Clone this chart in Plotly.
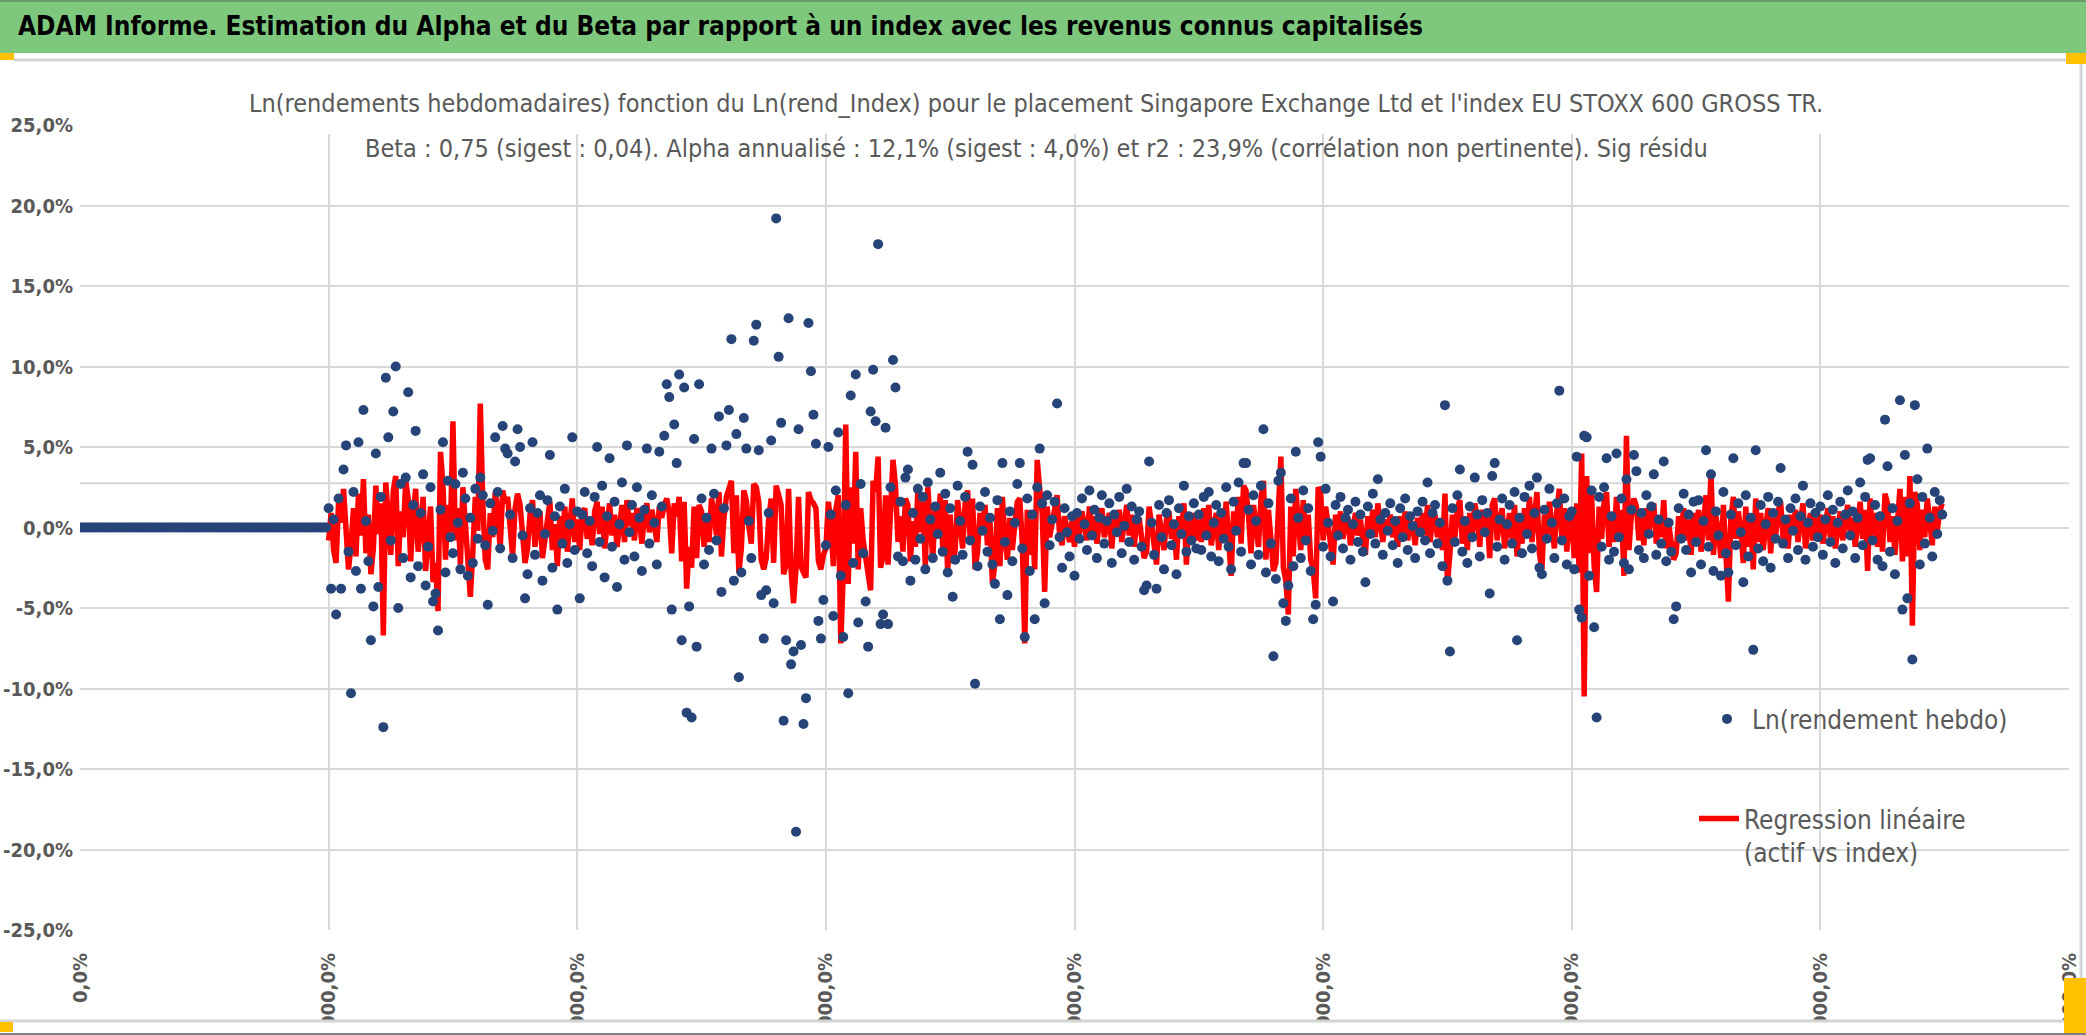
import plotly.graph_objects as go

# Ln(rendement hebdo) en %, une valeur toutes les 2 semaines (index 0, 2, 4, ...)
rendement_hebdo = [
    # semaines sans historique (0 -> 198)
    0, 0, 0, 0, 0, 0, 0, 0, 0, 0, 0, 0, 0, 0, 0, 0, 0, 0, 0, 0, 0, 0, 0, 0, 0,
    0, 0, 0, 0, 0, 0, 0, 0, 0, 0, 0, 0, 0, 0, 0, 0, 0, 0, 0, 0, 0, 0, 0, 0, 0,
    0, 0, 0, 0, 0, 0, 0, 0, 0, 0, 0, 0, 0, 0, 0, 0, 0, 0, 0, 0, 0, 0, 0, 0, 0,
    0, 0, 0, 0, 0, 0, 0, 0, 0, 0, 0, 0, 0, 0, 0, 0, 0, 0, 0, 0, 0, 0, 0, 0, 0,
    # 200 -> 298
    1.2, -3.8, 0.5, -5.4, 1.8, -3.8, 3.6, 5.1, -1.5, -10.3,
    2.2, -2.7, 5.3, -3.8, 7.3, 0.4, -2.1, -7.0, -4.9, 4.6,
    -3.7, 1.9, -12.4, 9.3, 5.6, -0.8, 7.2, 10.0, -5.0, 2.7,
    -1.9, 3.1, 8.4, -3.1, 1.4, 6.0, -2.4, 0.9, 3.3, -3.6,
    -1.2, 2.5, -4.6, -4.1, -6.4, 1.1, 5.3, -2.8, 2.9, -0.6,
    # 300 -> 398
    -1.6, 2.7, 0.3, -2.6, 3.4, 1.8, -3.0, 0.6, -2.2, 2.4,
    -0.7, 3.1, 2.0, -1.1, -4.8, 1.5, -0.2, 5.6, 2.2, -1.3,
    6.3, 4.9, 4.6, 0.8, -1.9, 4.1, 6.1, 5.0, -0.5, -4.4,
    -2.9, 1.2, 5.3, -1.7, 0.9, 2.0, -3.3, -0.4, 1.7, 4.5,
    -2.5, 0.7, -5.1, 1.3, -1.0, 2.4, -2.2, 0.2, 5.6, -1.4,
    # 400 -> 498
    1.0, -4.4, 0.8, 2.2, -1.6, 0.4, -2.4, 1.9, 5.0, -0.9,
    2.6, -3.1, 0.7, 4.3, -1.2, 1.6, -3.7, 0.2, 2.8, -2.0,
    5.1, -0.3, 1.4, -1.8, 2.5, 0.6, -2.7, 1.1, 4.9, -1.0,
    2.0, 0.3, -2.3, 4.7, 1.3, 5.7, 8.9, 8.1, -5.1, 6.4,
    4.0, 9.5, -7.0, 8.7, -11.5, -4.9, -11.8, 5.5, -7.4, 8.9,
    # 500 -> 598
    1.8, -2.3, 0.6, -1.4, 4.9, 2.1, -0.8, 6.9, -4.0, 1.2,
    5.1, 7.3, 11.7, -3.3, 5.8, -9.3, -2.8, 6.8, 4.9, 0.4,
    -1.9, 11.6, 12.6, 4.8, -4.2, -6.9, -3.9, 0.9, 5.4, -4.7,
    19.2, 10.6, 6.5, -12.0, -7.0, 13.0, -8.5, -7.7, -18.9, 6.1,
    -7.3, -12.2, -10.6, 12.7, 9.7, 7.0, 5.2, -5.8, -6.9, -4.5,
    # 600 -> 698
    -1.1, 5.0, 0.8, -5.5, 2.3, 5.9, -3.0, -6.8, 1.4, -10.3,
    8.2, -2.2, 9.5, -5.9, 2.7, -1.6, -4.6, -7.4, 7.2, 9.8,
    6.6, 17.6, -6.0, -5.4, 6.2, -6.0, 2.5, 10.4, 8.7, -1.8,
    1.6, -2.1, 3.1, 3.6, -3.3, 0.9, -2.0, 2.4, -0.7, 1.9,
    -2.6, 2.8, 0.5, -1.9, 1.3, -0.4, 3.4, -1.5, 2.1, -2.8,
    # 700 -> 798
    1.2, -4.3, -2.0, 2.6, 0.4, -1.7, 1.9, 4.7, -0.8, 3.9,
    -9.7, -2.4, 1.3, -0.2, 2.2, -1.5, 0.6, -2.3, -3.5, 1.7,
    -5.7, 4.0, -0.9, -4.2, 1.0, -2.1, 0.3, 2.7, 4.0, -1.3,
    -6.8, 1.8, -2.7, 0.8, -5.7, 2.5, 4.9, 1.5, -4.7, 2.0,
    -1.1, 0.5, 1.6, 7.7, -0.6, -2.5, 1.2, -0.3, -1.8, 0.7,
    # 800 -> 898
    -3.0, 0.9, -0.7, 1.8, 0.2, -1.4, 2.3, -0.5, 1.1, -1.9,
    0.6, 2.0, -1.0, 0.4, 1.5, -2.2, 0.8, -0.3, 1.9, -1.6,
    0.1, 2.4, -0.9, 1.3, -2.0, 0.5, 1.0, -1.2, -3.9, -3.6,
    4.1, 0.3, -1.7, -3.8, 1.4, -0.6, -2.6, 0.9, 1.7, -1.1,
    0.2, -2.9, 1.2, -0.4, 2.6, -1.5, 0.7, -0.8, 1.5, -1.3,
    # 900 -> 998
    0.8, -1.4, 1.9, -0.5, 2.2, -1.8, 0.3, 1.4, -2.1, 0.9,
    -0.7, 2.5, -1.2, -2.6, 1.6, -0.2, 2.8, -1.5, 4.0, 4.0,
    1.1, -2.3, 2.0, 0.4, -1.7, 2.6, 6.1, -2.8, 1.5, -1.0,
    -8.0, -3.2, 2.9, 3.4, -4.7, -5.8, -3.6, 1.8, -2.4, 4.7,
    0.6, -1.9, 2.3, -0.8, 1.2, -2.7, -5.7, -4.8, 5.3, 4.4,
    # 1000 -> 1098
    -1.2, 2.4, 0.3, -1.8, -4.6, 1.4, -0.5, 1.9, -1.3, 0.6,
    1.1, -2.0, 0.2, 1.6, -0.9, 0.8, -1.5, -3.4, 1.3, -0.4,
    2.1, -1.0, 3.0, 0.5, -1.7, 0.9, -0.2, 1.5, -1.1, 0.4,
    -2.2, 1.2, -0.6, 1.8, -1.4, 0.7, 0.1, -1.9, 1.0, -0.3,
    1.6, -0.8, 2.8, -1.6, 0.9, 1.4, -1.0, 0.3, -2.4, 7.6,
    # 1100 -> 1198
    -3.3, -7.7, 1.2, -0.9, 2.0, 3.6, -1.5, 0.4, -2.2, 1.3,
    -0.6, 3.1, 0.8, -1.8, 1.7, -0.3, 0.9, -4.1, 3.2, 4.0,
    -1.2, 0.5, 1.8, -2.0, 0.2, 1.4, -1.0, 2.2, -7.0, 0.6,
    -1.6, 1.9, -0.4, 2.6, -1.3, 0.9, 3.1, -2.5, -2.9, 1.1,
    -0.7, 2.4, 0.3, -1.9, 1.5, 8.5, -0.8, 1.8, -2.3, 0.7,
    # 1200 -> 1298
    1.0, -2.6, 4.4, -5.1, -5.6, 5.7, 5.6, -3.0, 2.3, -6.2,
    -11.8, 1.9, -1.2, 2.5, 4.3, -2.0, 0.7, -1.5, 4.6, -0.6,
    1.8, -2.2, 3.0, -2.6, 1.1, 4.5, 3.5, -1.4, 0.9, -1.9,
    2.0, -0.4, 1.3, 3.3, -1.7, 0.5, -1.0, 4.1, -2.1, 0.3,
    -1.5, -5.7, -4.9, 1.2, -0.7, 2.1, -1.4, 0.8, -2.8, 1.6,
    # 1300 -> 1398
    -0.9, 1.7, -2.3, 0.4, 4.8, -1.2, 3.3, -2.7, 1.0, -0.5,
    -3.0, 2.2, -1.6, -2.8, 0.8, 4.3, -1.1, 1.5, -0.3, -3.4,
    2.0, -1.8, 0.6, -7.6, 4.8, -1.3, 1.4, -2.1, 0.2, 1.9,
    -2.5, 0.9, -0.7, 1.6, 3.7, -1.0, 0.5, -1.9, 1.2, -0.2,
    1.8, -1.4, 0.7, 2.6, -2.0, 0.3, 1.5, -1.2, 0.9, -0.6,
    # 1400 -> 1498
    1.3, -1.7, 0.5, 2.0, -0.9, 1.1, -2.2, 0.3, 1.6, -1.3,
    0.8, 2.3, -0.5, 1.0, -1.9, 0.6, 2.8, -1.1, 1.9, 4.2,
    4.3, -0.8, 1.4, -2.0, 0.7, -2.4, 6.7, 3.8, -1.5, 1.2,
    -2.9, 0.4, 7.9, -5.1, 4.5, -4.4, 1.5, -8.2, 7.6, 3.0,
    -2.3, 1.9, -1.0, 4.9, 0.6, -1.8, 2.2, -0.4, 1.7, 0.8,
]

# Regression lineaire (alpha + beta * rend_Index) en %, a partir de la semaine 200
regression = [
    # 200 -> 298
    -0.8, 0.9, -1.4, -2.2, 1.6, 0.3, 2.4, -0.9, -2.6, -1.1,
    1.2, -1.8, 2.1, -0.5, 3.0, -1.6, 0.8, -2.9, -1.3, 2.6,
    -0.4, 1.5, -6.7, 2.8, 0.6, -1.7, 2.3, 3.2, -2.4, 1.0,
    -0.6, 2.9, 1.8, -2.1, 0.7, 2.4, -1.5, 0.2, 1.9, -2.7,
    -0.9, 1.3, -3.4, -2.2, -5.2, 4.7, 2.6, -2.0, 1.4, -0.3,
    # 300 -> 398
    6.6, -0.8, 1.2, -2.3, 2.5, 0.4, -2.8, -4.3, -1.5, 1.9,
    -0.2, 7.7, 1.6, -2.0, -2.6, 0.9, -0.6, 2.2, 1.1, -1.4,
    2.3, 1.5, 1.9, -0.3, -1.8, 1.2, 2.1, 1.4, -0.9, -2.2,
    -1.3, 0.8, 1.7, -1.2, 0.3, 1.0, -1.9, -0.5, 0.9, 1.6,
    -1.4, 0.2, -2.4, 0.7, -0.8, 1.3, -1.5, 0.1, 1.8, -0.9,
    # 400 -> 498
    0.5, -1.4, 0.9, 1.2, -0.7, 0.3, -1.1, 1.0, 1.6, -0.4,
    1.3, -1.3, 0.6, 1.5, -0.5, 0.8, -1.2, 0.4, 1.4, -0.9,
    1.7, 0.1, 0.9, -0.8, 1.2, 0.5, -1.0, 0.7, 1.5, -0.3,
    1.1, 0.2, -0.9, 1.3, 0.6, 1.4, 1.8, 0.9, -1.6, 1.5,
    0.7, 1.9, -2.1, 1.6, -3.8, -1.2, -2.5, 1.3, -1.9, 1.4,
    # 500 -> 598
    1.0, -1.2, 0.4, -0.9, 1.8, 0.9, -0.5, 2.2, -1.8, 0.6,
    1.9, 2.4, 2.9, -1.6, 2.0, -2.8, -1.3, 2.3, 1.7, 0.1,
    -1.0, 2.7, 2.5, 1.6, -2.0, -2.6, -1.9, 0.5, 1.8, -2.2,
    2.6, 2.0, 1.4, -2.9, -2.3, 2.4, -2.7, -4.7, -2.5, 1.9,
    -2.4, -2.8, -3.1, 2.2, 1.7, 1.5, 1.2, -2.1, -2.6, -1.7,
    # 600 -> 698
    -1.3, 1.6, 0.3, -2.4, 1.1, 2.0, -7.2, -2.8, 6.4, -3.5,
    2.5, -1.0, 4.7, -2.6, 1.2, -0.8, -2.2, -2.9, -3.9, 2.9,
    2.2, 4.4, -2.5, -1.8, 2.0, -2.3, 1.0, 4.2, 2.6, -0.9,
    0.7, -1.5, 1.8, 1.4, -2.1, 0.4, -1.2, 2.3, -0.3, 1.6,
    -2.4, 2.5, 0.2, -1.9, 1.1, -0.5, 2.1, -1.3, 1.7, -2.8,
    # 700 -> 798
    0.8, -2.2, -1.4, 1.7, 0.2, -1.3, 1.5, 2.3, -0.6, 1.8,
    -2.6, -1.5, 0.9, 0.1, 1.4, -1.1, 0.4, -3.5, -2.2, 1.2,
    -2.4, 1.9, -0.7, -2.0, 0.6, -1.4, 0.2, 1.6, 1.8, -1.0,
    -7.2, 1.1, -1.7, 0.5, -2.6, 4.2, 2.4, 0.9, -4.0, 1.3,
    -0.6, 0.3, 0.9, 2.0, -0.4, -1.1, 0.7, -0.2, -0.9, 0.4,
    # 800 -> 898
    -1.2, 0.6, -0.4, 1.0, 0.2, -0.8, 1.3, -0.3, 0.7, -1.0,
    0.4, 1.2, -0.6, 0.3, 0.9, -1.3, 0.5, -0.1, 1.1, -0.9,
    0.2, 1.4, -0.5, 0.8, -1.2, 0.3, 0.6, -0.7, -1.9, -1.5,
    1.3, 0.2, -1.0, -2.3, 0.8, -0.3, -1.4, 0.5, 1.0, -0.7,
    0.1, -2.0, 0.7, -0.2, 1.5, -2.3, 0.4, -0.5, 0.9, -0.8,
    # 900 -> 998
    0.5, -0.9, 1.2, -0.3, 1.4, -1.1, 0.2, 0.9, -1.4, 0.6,
    -0.4, 1.6, -0.8, -3.0, 1.0, -0.1, 1.9, -1.0, 2.6, 2.3,
    0.7, -1.6, 1.4, 0.3, -1.2, 1.8, 2.9, -2.0, 1.1, -0.7,
    -2.7, -2.2, 2.1, 4.4, -2.5, -3.3, -5.4, 1.3, -1.8, 2.4,
    0.4, -1.4, 1.7, -0.6, 0.8, -2.0, -2.6, -4.4, 2.5, 2.2,
    # 1000 -> 1098
    -0.8, 1.3, 0.2, -1.0, -2.3, 0.8, -0.3, 1.0, -0.7, 0.4,
    0.6, -1.1, 0.1, 0.9, -0.5, 0.5, -0.8, -1.7, 0.7, -0.2,
    1.1, -0.6, 1.5, 0.3, -0.9, 0.5, -0.1, 0.8, -0.6, 0.2,
    -1.2, 0.7, -0.3, 1.0, -0.8, 0.4, 0.1, -1.1, 0.6, -0.2,
    0.9, -0.5, 1.4, -0.9, 0.5, 0.8, -0.6, 0.2, -1.4, 2.1,
    # 1100 -> 1198
    -3.5, -1.6, 0.8, -0.6, 1.2, 1.7, -1.0, 0.3, -1.4, 0.9,
    -0.4, 1.5, 0.6, -1.2, 1.1, -0.2, 0.6, -1.9, 1.4, 1.8,
    -0.8, 0.4, 1.2, -1.3, 0.1, 0.9, -0.7, 1.4, -1.8, 0.4,
    -1.0, 1.2, -0.3, 1.9, -0.9, 0.6, 2.2, -1.6, -2.6, 0.8,
    -0.5, 1.6, 0.2, -1.3, 1.0, 2.4, -0.6, 1.2, -1.5, 0.5,
    # 1200 -> 1298
    0.6, -1.9, 1.5, -2.8, 4.6, -10.5, 3.2, -1.6, 2.1, -2.4,
    -4.0, 1.3, -0.7, 1.6, 2.2, -1.2, 0.5, -0.9, 1.9, -0.4,
    1.1, -3.0, 5.7, -1.4, 0.8, 1.8, 1.3, -0.8, 0.6, -1.1,
    1.2, -0.3, 0.9, 1.5, -1.0, 0.4, -0.6, 1.7, -1.3, 0.2,
    -0.9, -2.0, -1.6, 0.7, -0.4, 1.2, -0.8, 0.5, -1.7, 0.9,
    # 1300 -> 1398
    -0.6, 1.1, -1.5, 0.3, 2.0, -0.8, 3.5, -1.7, 0.7, -0.3,
    -1.9, 1.4, -1.1, -4.6, 0.5, 1.9, -0.7, 1.0, -0.2, -2.2,
    1.3, -1.2, 0.4, -2.6, 1.8, -0.9, 0.9, -1.4, 0.1, 1.2,
    -1.6, 0.6, -0.5, 1.0, 1.6, -0.7, 0.3, -1.3, 0.8, -0.1,
    1.1, -0.9, 0.4, 1.5, -1.3, 0.2, 0.9, -0.8, 0.6, -0.4,
    # 1400 -> 1498
    0.8, -1.0, 0.3, 1.2, -0.6, 0.7, -1.3, 0.2, 1.0, -0.8,
    0.5, 1.4, -0.3, 0.6, -1.2, 0.4, 1.6, -0.7, 1.1, -2.7,
    1.8, -0.5, 0.9, -1.2, 0.4, -1.5, 2.1, 1.5, -0.9, 0.7,
    -1.7, 0.3, 2.4, -2.1, 1.9, -1.8, 3.2, -6.1, 2.2, 1.4,
    -1.4, 1.1, -0.6, 1.8, 0.4, -1.1, 1.3, -0.2, 1.0, 1.5,
]

sig_residu = 2.75  # ligne horizontale "Sig residu" (en %)

x_tick_vals = [0, 200, 400, 600, 800, 1000, 1200, 1400, 1600]
x_tick_text = ["0,0%", "20000,0%", "40000,0%", "60000,0%", "80000,0%",
               "100000,0%", "120000,0%", "140000,0%", "160000,0%"]
y_tick_vals = [25, 20, 15, 10, 5, 0, -5, -10, -15, -20, -25]
y_tick_text = ["25,0%", "20,0%", "15,0%", "10,0%", "5,0%", "0,0%",
               "-5,0%", "-10,0%", "-15,0%", "-20,0%", "-25,0%"]

header = "ADAM Informe. Estimation du Alpha et du Beta par rapport à un index avec les revenus connus capitalisés"
subtitle_1 = ("Ln(rendements hebdomadaires) fonction du Ln(rend_Index) pour le placement "
              "Singapore Exchange Ltd et l'index EU STOXX 600 GROSS TR.")
subtitle_2 = ("Beta : 0,75 (sigest : 0,04). Alpha annualisé : 12,1% (sigest : 4,0%) et r2 : 23,9% "
              "(corrélation non pertinente). Sig résidu")

FONT = "Liberation Sans Narrow, DejaVu Sans Condensed, Roboto Condensed, Arial Narrow, sans-serif"
GREY = "#595959"
GRID = "#d9d9d9"

W, H = 2086, 1035
L, R, T, B = 80, 17, 125, 105


def px(x):
    return (x - L) / (W - L - R)


def py(y):
    return (H - B - y) / (H - T - B)


x_rend = list(range(0, 2 * len(rendement_hebdo), 2))
x_reg = list(range(200, 200 + 2 * len(regression), 2))

fig = go.Figure()

fig.add_trace(go.Scatter(
    x=x_reg, y=regression, mode="lines",
    name="Regression linéaire<br>(actif vs index)",
    line=dict(color="#ff0000", width=5.5),
    legend="legend2", showlegend=True,
))
fig.add_trace(go.Scatter(
    x=x_rend, y=rendement_hebdo, mode="markers",
    name="Ln(rendement hebdo)",
    marker=dict(color="#264478", size=10),
    legend="legend", showlegend=True,
))

shapes = [
    # ligne Sig residu
    dict(type="line", xref="x", yref="y", x0=0, x1=1600, y0=sig_residu, y1=sig_residu,
         line=dict(color=GRID, width=2), layer="below"),
    # bandeau vert
    dict(type="rect", xref="paper", yref="paper", x0=px(0), x1=px(W), y0=py(53), y1=py(0),
         fillcolor="#7ec87e", line=dict(width=0), layer="above"),
    dict(type="line", xref="paper", yref="paper", x0=px(0), x1=px(W), y0=py(1), y1=py(1),
         line=dict(color="#6a9a6a", width=2), layer="above"),
    dict(type="line", xref="paper", yref="paper", x0=px(14), x1=px(W), y0=py(60), y1=py(60),
         line=dict(color="#d4d4d4", width=3), layer="above"),
    # cache sous le titre
    dict(type="rect", xref="paper", yref="paper", x0=px(255), x1=px(1847), y0=py(134), y1=py(84),
         fillcolor="white", line=dict(width=0), layer="above"),
    # bas du cadre
    dict(type="rect", xref="paper", yref="paper", x0=px(0), x1=px(W), y0=py(H), y1=py(1021),
         fillcolor="white", line=dict(width=0), layer="above"),
    dict(type="line", xref="paper", yref="paper", x0=px(0), x1=px(2080), y0=py(1021), y1=py(1021),
         line=dict(color="#d4d4d4", width=3), layer="above"),
    dict(type="line", xref="paper", yref="paper", x0=px(0), x1=px(W), y0=py(1034), y1=py(1034),
         line=dict(color="#7f7f7f", width=2), layer="above"),
    dict(type="line", xref="paper", yref="paper", x0=px(2081), x1=px(2081), y0=py(1021), y1=py(60),
         line=dict(color="#d4d4d4", width=3), layer="above"),
    # poignees dorees
    dict(type="rect", xref="paper", yref="paper", x0=px(0), x1=px(14), y0=py(60), y1=py(53),
         fillcolor="#ffc000", line=dict(width=0), layer="above"),
    dict(type="rect", xref="paper", yref="paper", x0=px(2066), x1=px(W), y0=py(64), y1=py(53),
         fillcolor="#ffc000", line=dict(width=0), layer="above"),
    dict(type="rect", xref="paper", yref="paper", x0=px(0), x1=px(13), y0=py(1032), y1=py(1022),
         fillcolor="#ffc000", line=dict(width=0), layer="above"),
    dict(type="rect", xref="paper", yref="paper", x0=px(2064), x1=px(W), y0=py(1033), y1=py(978),
         fillcolor="#ffc000", line=dict(width=0), layer="above"),
]

annotations = [
    dict(text="<b>" + header + "</b>", xref="paper", yref="paper", x=px(16), y=py(26),
         xanchor="left", yanchor="middle", showarrow=False,
         font=dict(family=FONT, size=26, color="black")),
    dict(text=subtitle_1, xref="paper", yref="paper", x=px(1036), y=py(104),
         xanchor="center", yanchor="middle", showarrow=False,
         font=dict(family=FONT, size=25, color=GREY)),
    dict(text=subtitle_2, xref="paper", yref="paper", x=px(1036), y=py(148),
         xanchor="center", yanchor="middle", showarrow=False,
         font=dict(family=FONT, size=25, color=GREY)),
]

fig.update_layout(
    width=W, height=H,
    margin=dict(l=L, r=R, t=T, b=B),
    paper_bgcolor="white", plot_bgcolor="white",
    font=dict(family=FONT, color=GREY),
    shapes=shapes, annotations=annotations,
    showlegend=True,
    legend=dict(x=px(1702), y=py(719), xanchor="left", yanchor="middle", visible=True,
                itemwidth=40,
                font=dict(family=FONT, size=26, color=GREY), bgcolor="rgba(0,0,0,0)"),
    legend2=dict(x=px(1694), y=py(795), xanchor="left", yanchor="top", valign="top",
                 visible=True, itemwidth=40,
                 font=dict(family=FONT, size=26, color=GREY), bgcolor="rgba(0,0,0,0)"),
)

fig.update_xaxes(
    range=[0, 1600], tickmode="array", tickvals=x_tick_vals, ticktext=x_tick_text,
    tickangle=-90, showgrid=True, gridcolor=GRID, gridwidth=2, zeroline=False,
    showline=False, automargin=False, ticks="", ticklabelstandoff=18,
    tickfont=dict(family=FONT, size=20, color=GREY, weight="bold"),
)
fig.update_yaxes(
    range=[-25, 25], tickmode="array", tickvals=y_tick_vals, ticktext=y_tick_text,
    showgrid=True, gridcolor=GRID, gridwidth=2, zeroline=False,
    showline=False, automargin=False, ticks="", ticklabelstandoff=6,
    tickfont=dict(family=FONT, size=20, color=GREY, weight="bold"),
)

fig.write_html("out.html", config={"displayModeBar": False},
               post_script="document.body.style.margin='0';")
